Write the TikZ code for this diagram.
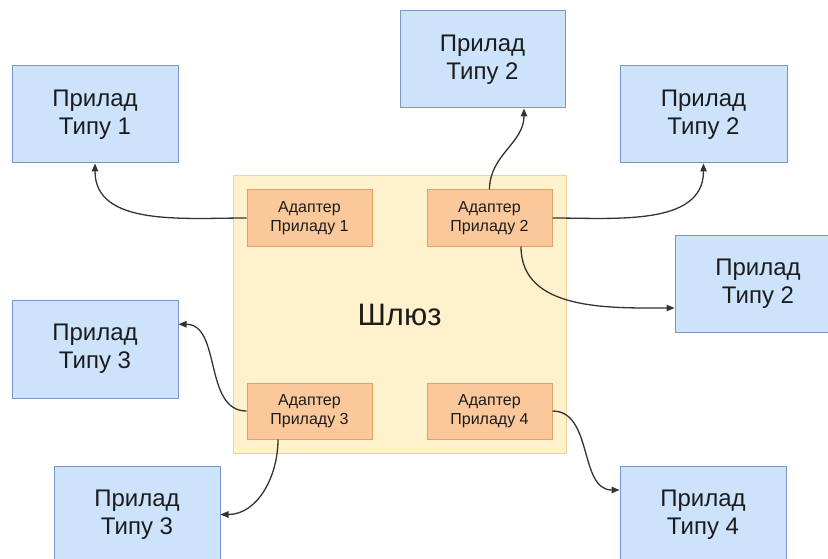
\documentclass[tikz,border=0pt]{standalone}
\usepackage{fontspec}
\setmainfont{Liberation Sans}
\usetikzlibrary{arrows.meta,calc}
\definecolor{devfill}{HTML}{CDE3FB}
\definecolor{devline}{HTML}{7896C8}
\definecolor{adfill}{HTML}{FBC89B}
\definecolor{adline}{HTML}{E0A06A}
\definecolor{gwfill}{HTML}{FEF1CC}
\definecolor{gwline}{HTML}{EAD49C}
\definecolor{txt}{HTML}{1C1C1C}
\definecolor{arr}{HTML}{333333}
\begin{document}
\begin{tikzpicture}[x=1pt,y=1pt,
  device/.style={draw=devline,fill=devfill,line width=1pt,inner sep=0pt,
    minimum width=166pt,minimum height=97pt,align=center,text=txt,
    font=\fontsize{24}{28}\selectfont},
  adapter/.style={draw=adline,fill=adfill,line width=1pt,inner sep=0pt,
    minimum width=125pt,minimum height=56pt,align=center,text=txt,
    font=\fontsize{16}{18.5}\selectfont},
  gateway/.style={draw=gwline,fill=gwfill,line width=1pt,inner sep=0pt,
    minimum width=333pt,minimum height=277pt,text=txt,
    font=\fontsize{31}{36}\selectfont},
  link/.style={draw=arr,line width=1.3pt,-{Triangle[length=8pt,width=6.5pt]}}]
\useasboundingbox (0,0) rectangle (828,-559);
\begin{scope}
\clip (0,0) rectangle (828,-559);
\node[gateway] (gw) at (399.5,-314.5) {Шлюз};
\node[adapter] (a1) at (309.5,-218) {Адаптер\\Приладу 1};
\node[adapter] (a2) at (489.5,-218) {Адаптер\\Приладу 2};
\node[adapter] (a3) at (309.5,-411) {Адаптер\\Приладу 3};
\node[adapter] (a4) at (489.5,-411) {Адаптер\\Приладу 4};
\node[device] (t1) at (95,-114.5) {Прилад\\Типу 1};
\node[device,minimum width=165pt] (t2a) at (482.5,-59.5) {Прилад\\Типу 2};
\node[device,minimum width=167pt] (t2b) at (703.5,-114.5) {Прилад\\Типу 2};
\node[device] (t2c) at (758,-283.5) {Прилад\\Типу 2};
\node[device,minimum height=98pt] (t3a) at (95,-349) {Прилад\\Типу 3};
\node[device] (t3b) at (137,-514.5) {Прилад\\Типу 3};
\node[device] (t4) at (703,-514.5) {Прилад\\Типу 4};
\end{scope}
\draw[link] (a1.west) to[out=180,in=-90] (t1.south);
\draw[link] (a2.north) to[out=90,in=-90] ($(t2a.south)!0.5!(t2a.south east)$);
\draw[link] (a2.east) to[out=0,in=-90] (t2b.south);
\draw[link] ($(a2.south)!0.5!(a2.south east)$) to[out=-90,in=180] ($(t2c.west)!0.5!(t2c.south west)$);
\draw[link] (a3.west) to[out=180,in=0] ($(t3a.east)!0.5!(t3a.north east)$);
\draw[link] ($(a3.south west)!0.5!(a3.south)$) to[out=-90,in=0] (t3b.east);
\draw[link] (a4.east) to[out=0,in=180] ($(t4.west)!0.5!(t4.north west)$);
\end{tikzpicture}
\end{document}
